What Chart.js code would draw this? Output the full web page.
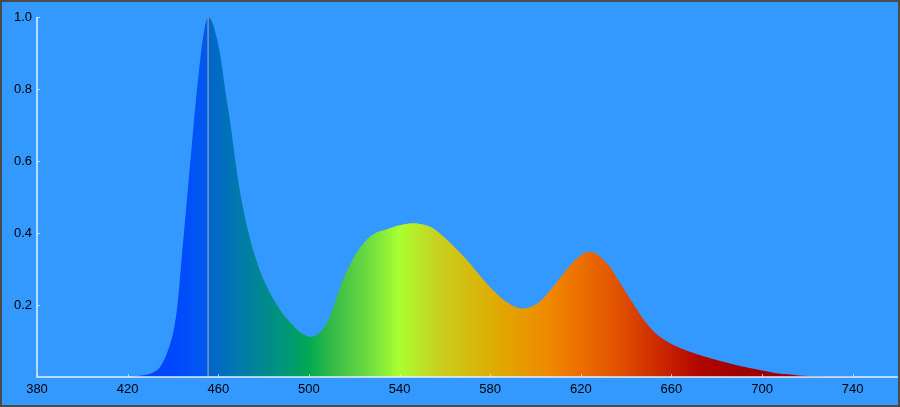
<!DOCTYPE html>
<html>
<head>
<meta charset="utf-8">
<script src="https://cdn.jsdelivr.net/npm/chart.js@4"></script>
<style>
    html, body { margin: 0; padding: 0; background: #3399ff; }
    #wrap {
        width: 900px;
        height: 407px;
        box-sizing: border-box;
        border: 2px solid #4a4a4a;
        background: #3399ff;
    }
    canvas { display: block; }
</style>
</head>
<body>
<div id="wrap"><canvas id="spectrum" width="896" height="403"></canvas></div>
<script>
// spectrum (nm, relative intensity)
const wavelengths = [
    380, 400, 420, 425, 428, 431, 434, 437, 440, 442, 444, 446, 448, 450, 452, 454, 455.5,
    457, 459, 461, 463, 465, 468, 470, 473, 476, 480, 484, 488, 492, 496, 500,
    503, 506, 509, 512, 515, 518, 521, 524, 527, 530, 534, 538, 542, 546, 550,
    554, 558, 562, 566, 570, 574, 578, 582, 586, 590, 594, 598, 602, 606, 610,
    614, 618, 622, 624, 627, 630, 633, 636, 640, 644, 648, 652, 656, 660, 665,
    670, 675, 680, 685, 690, 695, 700, 705, 710, 715, 720, 725, 730, 740, 745, 760
];
const intensities = [
    0, 0, 0, 0.003, 0.006, 0.012, 0.025, 0.06, 0.12, 0.2, 0.34, 0.48, 0.62, 0.76, 0.88, 0.97, 1.0,
    0.99, 0.95, 0.89, 0.8, 0.72, 0.58, 0.5, 0.41, 0.34, 0.27, 0.22, 0.18, 0.15, 0.125, 0.112,
    0.115, 0.132, 0.165, 0.215, 0.27, 0.31, 0.345, 0.37, 0.39, 0.402, 0.41, 0.418, 0.424, 0.427, 0.424,
    0.416, 0.398, 0.375, 0.35, 0.323, 0.293, 0.263, 0.237, 0.214, 0.198, 0.19, 0.195, 0.21, 0.237, 0.268,
    0.3, 0.328, 0.346, 0.348, 0.342, 0.325, 0.305, 0.275, 0.235, 0.195, 0.157, 0.128, 0.107, 0.092, 0.078,
    0.066, 0.056, 0.047, 0.039, 0.031, 0.024, 0.018, 0.012, 0.008, 0.005, 0.003, 0.002, 0.001, 0.001, 0, 0
];
const peakWavelength = 455.5;
const peakLine = [0, 1.0];

const xTicks = [380, 420, 460, 500, 540, 580, 620, 660, 700, 740];
const yTicks = [0.2, 0.4, 0.6, 0.8, 1.0];

// colour of the fill along the wavelength axis
const gradientStops = [
    [380, '#0040ff'],
    [440, '#0046ff'],
    [455, '#005aee'],
    [456, '#0066cc'],
    [474, '#0080a0'],
    [492, '#009a70'],
    [500, '#00a852'],
    [509, '#30b848'],
    [527, '#70dd40'],
    [540, '#aaff30'],
    [557, '#c8d020'],
    [584, '#e0a800'],
    [606, '#f08800'],
    [619, '#ec7000'],
    [637, '#e05000'],
    [655, '#cc2800'],
    [672, '#b00800'],
    [690, '#a00000'],
    [760, '#a00000']
];

const spectrumFill = (context) => {
    const chart = context.chart;
    const area = chart.chartArea;
    if (!area) return '#0066cc';
    const x = chart.scales.x;
    const x0 = x.getPixelForValue(380);
    const x1 = x.getPixelForValue(760);
    const g = chart.ctx.createLinearGradient(x0, 0, x1, 0);
    gradientStops.forEach(([w, c]) => g.addColorStop((w - 380) / 380, c));
    return g;
};

// axis lines and the short inward tick marks
const axisPlugin = {
    id: 'axisPlugin',
    afterDatasetsDraw(chart) {
        const { ctx, chartArea, scales } = chart;
        ctx.save();
        ctx.strokeStyle = 'rgba(235,245,255,0.95)';
        ctx.lineWidth = 1.5;
        ctx.beginPath();
        ctx.moveTo(chartArea.left, scales.y.getPixelForValue(1.0));
        ctx.lineTo(chartArea.left, chartArea.bottom);
        ctx.lineTo(chartArea.right, chartArea.bottom);
        ctx.stroke();

        ctx.strokeStyle = 'rgba(235,245,255,0.7)';
        ctx.lineWidth = 1;
        ctx.beginPath();
        xTicks.forEach(v => {
            const px = Math.round(scales.x.getPixelForValue(v)) + 0.5;
            ctx.moveTo(px, chartArea.bottom);
            ctx.lineTo(px, chartArea.bottom - 3);
        });
        yTicks.forEach(v => {
            const py = Math.round(scales.y.getPixelForValue(v)) + 0.5;
            ctx.moveTo(chartArea.left, py);
            ctx.lineTo(chartArea.left + 3, py);
        });
        ctx.stroke();
        ctx.restore();
    }
};

Chart.defaults.font.family = '"Liberation Sans", Arial, sans-serif';
Chart.defaults.font.size = 13;
Chart.defaults.color = '#000';

const ctx = document.getElementById('spectrum').getContext('2d');
new Chart(ctx, {
    type: 'line',
    data: {
        datasets: [
            {
                label: 'Spectrum',
                data: wavelengths.map((w, i) => ({ x: w, y: intensities[i] })),
                fill: 'origin',
                backgroundColor: spectrumFill,
                borderWidth: 0,
                pointRadius: 0,
                tension: 0.3,
                order: 2
            },
            {
                label: 'Peak',
                data: peakLine.map(v => ({ x: peakWavelength, y: v })),
                fill: false,
                borderColor: 'rgba(200,185,160,0.9)',
                borderWidth: 1,
                pointRadius: 0,
                order: 1
            }
        ]
    },
    options: {
        responsive: false,
        animation: false,
        devicePixelRatio: 1,
        layout: { padding: { top: 15, right: 0, left: 0, bottom: 0 } },
        plugins: {
            legend: { display: false },
            tooltip: { enabled: false }
        },
        scales: {
            x: {
                type: 'linear',
                min: 380,
                max: 760,
                afterBuildTicks: (scale) => { scale.ticks = xTicks.map(v => ({ value: v })); },
                afterFit: (scale) => { scale.height = 28; },
                grid: { display: false, drawTicks: false },
                border: { display: false },
                ticks: { padding: 5, maxRotation: 0, autoSkip: false, callback: (v) => v }
            },
            y: {
                type: 'linear',
                min: 0,
                max: 1.0,
                afterBuildTicks: (scale) => { scale.ticks = yTicks.map(v => ({ value: v })); },
                afterFit: (scale) => { scale.width = 35; },
                grid: { display: false, drawTicks: false },
                border: { display: false },
                ticks: { padding: 5, callback: (v) => v.toFixed(1) }
            }
        }
    },
    plugins: [axisPlugin]
});
</script>
</body>
</html>
